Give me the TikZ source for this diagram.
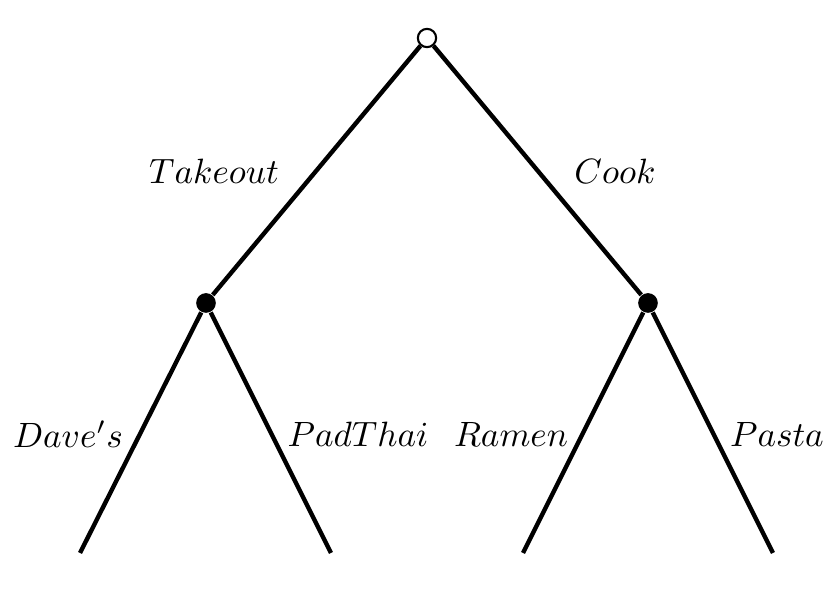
\documentclass[tikz,border=0pt]{standalone}
\tikzset{
  opennode/.style={circle,draw,fill=white,line width=0.6pt,inner sep=0pt,minimum size=5.2pt},
  fullnode/.style={circle,fill=black,inner sep=0pt,minimum size=5.6pt},
  branch/.style={line width=1.25pt}
}
\begin{document}
\begin{tikzpicture}[x=0.01cm,y=-0.01cm]
        \useasboundingbox (0,0) rectangle (838,613);
        \node[opennode] (root) at (427,38) {};
        \node[fullnode] (takeout) at (206,303) {};
        \node[fullnode] (cook) at (648,303) {};

        \coordinate (daves) at (80,553);
        \coordinate (padthai) at (331,553);
        \coordinate (ramen) at (523,553);
        \coordinate (pasta) at (773,553);

        \draw[branch] (root)--(takeout);
        \draw[branch] (root)--(cook);
        \draw[branch] (takeout)--(daves);
        \draw[branch] (takeout)--(padthai);
        \draw[branch] (cook)--(ramen);
        \draw[branch] (cook)--(pasta);

        \node (ltakeout) at (214,171) {$Takeout$};
        \node (lcook) at (615,171) {$Cook$};
        \node (ldaves) at (68,434) {$Dave's$};
        \node (lpadthai) at (358,434) {$PadThai$};
        \node (lramen) at (511,434) {$Ramen$};
        \node (lpasta) at (777,434) {$Pasta$};
    \end{tikzpicture}
\end{document}
